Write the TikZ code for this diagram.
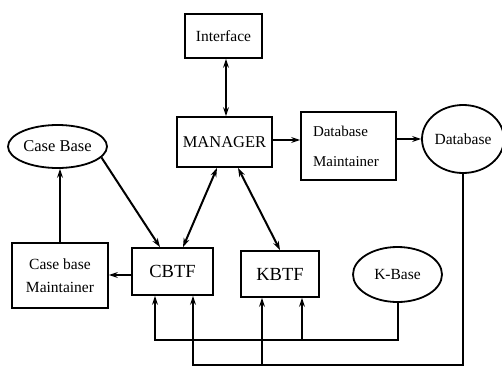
\documentclass[tikz,border=0pt]{standalone}
\usepackage{fontspec}
\setmainfont{Liberation Serif}
\usetikzlibrary{arrows.meta,calc,shapes.geometric}
\begin{document}
\begin{tikzpicture}[x=1pt,y=-1pt,
  box/.style={draw,line width=1.8pt,inner sep=0pt,align=center},
  oval/.style={draw,ellipse,line width=1.8pt,inner sep=0pt,align=center},
  tip/.tip={Stealth[length=9pt,width=6pt]},
  conn/.style={line width=2pt,-tip},
  bconn/.style={line width=2pt,tip-tip},
  fa/.style={font=\fontsize{15.5}{18}\selectfont},
  fb/.style={font=\fontsize{16.5}{19}\selectfont},
  fc/.style={font=\fontsize{18.5}{21}\selectfont}]
\useasboundingbox (0,0) rectangle (502,367);

\node[box,fa,minimum width=77pt,minimum height=44pt] (int) at (223.5,36) {Interface};
\node[box,fb,minimum width=95pt,minimum height=50pt] (mgr) at (224.5,142) {MANAGER};
\node[box,font=\fontsize{15}{30}\selectfont,minimum width=95pt,minimum height=68pt,text width=71pt,align=left] (dm) at (348.5,146) {Database\\Maintainer};
\node[oval,fa,minimum width=82pt,minimum height=68pt] (db) at (463,139) {Database};
\node[oval,fb,minimum width=99pt,minimum height=43pt] (cb) at (57.5,146.5) {Case Base};
\node[box,font=\fontsize{15.5}{23}\selectfont,minimum width=96pt,minimum height=65pt] (cbm) at (60,275.5) {Case base\\Maintainer};
\node[box,fc,minimum width=81pt,minimum height=47pt] (cbtf) at (172.5,271.5) {CBTF};
\node[box,fc,minimum width=78pt,minimum height=46pt] (kbtf) at (280,274) {KBTF};
\node[oval,fa,minimum width=89pt,minimum height=55pt] (kb) at (397.5,274.5) {K-Base};

\coordinate (j1) at (155,340);
\coordinate (j2) at (302,340);
\coordinate (j3) at (193,365);
\coordinate (j4) at (262,365);
\coordinate (m1) at ($(mgr.east)+(0,-2)$);
\coordinate (c1) at ($(cbtf.west)+(0,3.5)$);
\coordinate (i1) at ($(int.south)+(2.5,0)$);

\draw[bconn] (i1) -- (i1 |- mgr.north);
\draw[conn] (m1) -- (m1 -| dm.west);
\draw[conn] (db.west -| dm.east) -- (db.west);
\draw[conn] (cbm.north) -- (cbm.north |- cb.south);
\draw[conn] (cb.-14) -- ($(cbtf.north)+(-12.5,0)$);
\draw[bconn] ($(mgr.south)+(-7.5,0)$) -- ($(cbtf.north)+(10.5,0)$);
\draw[bconn] ($(mgr.south)+(13.5,0)$) -- (kbtf.north);
\draw[conn] (c1) -- (c1 -| cbm.east);

\draw[conn] (kb.south) |- (j1) -- (j1 |- cbtf.south);
\draw[conn] (j2) -- (j2 |- kbtf.south);
\draw[conn] (db.south) |- (j3) -- (j3 |- cbtf.south);
\draw[conn] (j4) -- (j4 |- kbtf.south);
\end{tikzpicture}
\end{document}
